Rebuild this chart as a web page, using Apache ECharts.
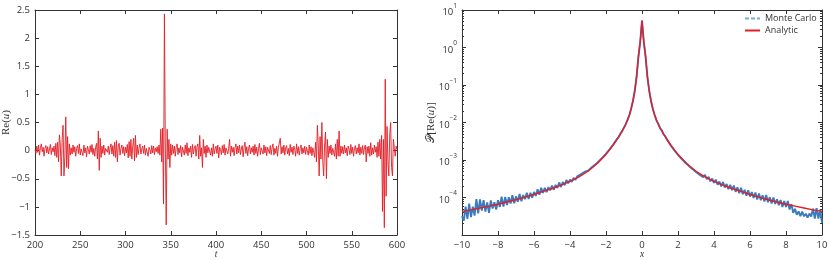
<!DOCTYPE html>
<html><head><meta charset="utf-8">
<script src="https://cdn.jsdelivr.net/npm/echarts@6/dist/echarts.min.js"></script>
<style>html,body{margin:0;padding:0;background:#fff}#c{width:830px;height:260px}</style>
</head><body><div id="c"></div>
<script>
// ---- Left panel: Re(u) vs t (t = 200..600, step 1) ----
const tStart = 200;
const signalU = [
0.02,-0.05,0.08,-0.03,0.1,-0.08,0.05,0.12,-0.02,0.06,-0.1,0.04,0.09,-0.04,0.07,-0.06,0.03,0.11,-0.07,0.05,
-0.02,0.08,-0.09,0.13,-0.12,0.15,-0.2,0.28,0.1,-0.45,0.2,0.45,-0.45,-0.1,0.6,-0.3,0.25,-0.32,0.12,-0.08,
0.05,-0.06,0.1,-0.03,0.07,-0.1,0.04,0.09,-0.05,0.12,-0.08,0.03,0.06,-0.09,0.1,-0.04,0.05,-0.11,0.08,0.02,
-0.06,0.09,-0.03,0.11,-0.07,0.04,-0.1,0.06,0.13,-0.15,0.35,-0.35,0.22,-0.12,0.08,-0.05,0.1,-0.08,0.04,0.07,
-0.03,0.08,-0.07,0.05,0.12,-0.06,0.09,-0.1,0.15,-0.12,0.18,-0.2,0.08,0.13,-0.08,0.04,0.1,-0.05,0.07,-0.09,
0.06,-0.04,0.11,-0.13,0.16,-0.1,0.2,-0.15,0.08,0.22,-0.18,0.27,-0.12,0.1,-0.07,0.05,0.12,-0.06,0.03,0.08,
-0.05,0.1,-0.08,0.04,0.07,-0.1,0.06,0.02,-0.06,0.09,-0.04,0.08,-0.07,0.05,-0.02,0.07,-0.05,0.1,-0.08,0.38,
-0.2,0.4,-0.95,2.43,0.1,-1.32,0.38,-0.15,0.2,-0.3,0.12,-0.08,0.1,-0.05,0.08,-0.1,0.06,0.12,-0.07,0.05,
-0.04,0.09,-0.11,0.06,0.03,-0.08,0.1,-0.05,0.14,-0.09,0.05,-0.03,0.08,-0.12,0.11,-0.06,0.04,0.09,-0.1,0.07,
0.12,-0.15,0.27,-0.1,0.05,-0.3,0.2,-0.05,0.08,-0.12,0.1,-0.04,0.06,0.09,-0.08,0.05,-0.1,0.12,-0.06,0.03,
0.08,-0.05,0.1,-0.13,0.06,0.02,-0.07,0.09,-0.04,0.11,-0.08,0.05,0.07,-0.06,0.04,0.2,-0.1,0.08,-0.03,0.06,
-0.09,0.05,0.12,-0.06,0.08,-0.04,0.1,-0.07,0.03,0.09,-0.11,0.06,0.15,-0.05,0.07,-0.09,0.04,0.1,-0.06,0.05,
-0.03,0.08,-0.08,0.11,-0.05,0.06,-0.1,0.04,0.13,-0.07,0.05,0.02,-0.06,0.1,-0.04,0.07,-0.09,0.06,0.03,-0.05,
0.09,-0.07,0.05,0.12,-0.08,0.04,-0.05,0.08,-0.1,0.06,0.03,0.22,-0.06,0.07,-0.04,0.1,-0.08,0.05,0.09,-0.06,
0.04,-0.09,0.11,-0.03,0.06,-0.07,0.08,0.02,-0.1,0.12,-0.05,0.07,-0.08,0.04,0.1,-0.06,0.05,-0.04,0.08,-0.07,
0.06,0.03,-0.08,0.1,-0.05,0.07,-0.09,0.05,0.08,-0.12,0.15,-0.2,0.45,0.1,-0.45,0.25,-0.15,0.5,-0.2,-0.45,
0.1,0.33,-0.5,0.2,-0.12,0.08,-0.05,0.1,-0.08,0.04,0.06,-0.1,0.12,-0.15,0.2,-0.1,0.35,-0.1,0.08,-0.05,
0.07,-0.06,0.1,-0.04,0.05,-0.09,0.08,0.03,-0.07,0.11,-0.05,0.06,-0.1,0.04,0.09,-0.06,0.05,-0.04,0.12,-0.08,
0.06,-0.05,0.09,-0.07,0.05,0.1,-0.2,0.07,-0.05,0.08,-0.1,0.14,-0.08,0.05,-0.06,0.1,-0.03,0.07,-0.12,0.15,
-0.1,0.2,-0.15,0.27,-1.08,0.2,-1.37,1.27,-0.81,0.43,-0.2,-0.45,0.3,0.5,-0.3,-0.45,0.2,0.05,-0.1,0.08,
0.02
];

// ---- Right panel: P[Re(u)] vs x ----
// Monte Carlo histogram, x = -10..10 step 0.1
const mcStart = -10, mcStep = 0.1;
const mcValues = [
3.2e-5,2.4e-5,5.7e-5,2.7e-5,6.9e-5,3.0e-5,5.7e-5,3.3e-5,9.0e-5,3.8e-5,
8.9e-5,4.5e-5,8.5e-5,4.2e-5,7.4e-5,3.9e-5,8.4e-5,5.1e-5,7.5e-5,4.8e-5,
8.5e-5,5.6e-5,1.05e-4,5.7e-5,1.03e-4,6.3e-5,1.01e-4,6.9e-5,1.15e-4,7.0e-5,
1.07e-4,7.7e-5,1.24e-4,7.9e-5,1.16e-4,9.0e-5,1.33e-4,9.1e-5,1.34e-4,9.8e-5,
1.4e-4,1.1e-4,1.66e-4,1.18e-4,1.82e-4,1.32e-4,1.8e-4,1.38e-4,1.89e-4,1.55e-4,
2.07e-4,1.61e-4,2.17e-4,1.79e-4,2.52e-4,1.9e-4,2.58e-4,2.13e-4,2.92e-4,2.39e-4,
2.99e-4,2.61e-4,3.36e-4,2.96e-4,3.66e-4,3.34e-4,4.14e-4,3.79e-4,4.81e-4,4.45e-4,
5.21e-4,5.34e-4,6.33e-4,6.41e-4,7.53e-4,7.78e-4,9.27e-4,9.7e-4,1.16e-3,1.23e-3,
1.47e-3,1.59e-3,1.92e-3,2.12e-3,2.59e-3,2.89e-3,3.57e-3,4.08e-3,5.05e-3,5.9e-3,
7.38e-3,9.03e-3,1.19e-2,1.58e-2,2.38e-2,3.8e-2,0.071,0.166,0.56,1.4,
5.2,
1.42,0.57,0.165,0.071,0.0378,0.0232,0.0161,0.0116,0.0093,0.0071,
6.14e-3,4.8e-3,4.24e-3,3.4e-3,3.04e-3,2.43e-3,2.25e-3,1.8e-3,1.68e-3,1.37e-3,
1.32e-3,1.08e-3,1.06e-3,8.55e-4,8.34e-4,6.95e-4,6.94e-4,5.79e-4,5.83e-4,4.76e-4,
5.15e-4,4.06e-4,4.48e-4,3.5e-4,4.01e-4,3.09e-4,3.56e-4,2.7e-4,3.21e-4,2.47e-4,
3.0e-4,2.2e-4,2.67e-4,1.97e-4,2.57e-4,1.85e-4,2.3e-4,1.66e-4,2.17e-4,1.57e-4,
2.09e-4,1.42e-4,1.87e-4,1.31e-4,1.81e-4,1.22e-4,1.61e-4,1.11e-4,1.56e-4,1.06e-4,
1.39e-4,9.7e-5,1.36e-4,8.9e-5,1.28e-4,8.5e-5,1.15e-4,7.8e-5,1.17e-4,7.5e-5,
1.02e-4,6.9e-5,1.0e-4,6.7e-5,8.96e-5,6.2e-5,8.6e-5,5.6e-5,8.0e-5,5.55e-5,
8.1e-5,4.8e-5,6.66e-5,3.9e-5,5.0e-5,3.45e-5,4.27e-5,3.19e-5,4.19e-5,3.15e-5,
3.69e-5,2.9e-5,3.72e-5,3.11e-5,5.05e-5,2.75e-5,5.19e-5,2.75e-5,4.7e-5,2.14e-5
];
// Analytic density
const anX = [-10,-9.5,-9,-8.5,-8,-7.5,-7,-6.5,-6,-5.5,-5,-4.5,-4,-3.5,-3,-2.5,-2,-1.8,-1.6,-1.4,-1.2,-1,-0.9,-0.8,-0.7,-0.6,-0.5,-0.4,-0.3,-0.2,-0.1,-0.05,0,
0.05,0.1,0.2,0.3,0.4,0.5,0.6,0.7,0.8,0.9,1,1.2,1.4,1.6,1.8,2,2.5,3,3.5,4,4.5,5,5.5,6,6.5,7,7.5,8,8.5,9,9.5,10];
const anY = [4.27e-5,4.68e-5,5.25e-5,5.89e-5,6.61e-5,7.59e-5,8.71e-5,1.02e-4,1.2e-4,1.45e-4,1.74e-4,2.14e-4,2.69e-4,3.55e-4,5.01e-4,7.94e-4,1.41e-3,1.86e-3,2.51e-3,3.47e-3,4.9e-3,7.24e-3,9.12e-3,1.17e-2,1.58e-2,2.34e-2,3.8e-2,7.08e-2,0.166,0.562,1.41,2.63,5.25,
2.63,1.41,0.562,0.166,7.08e-2,3.8e-2,2.34e-2,1.58e-2,1.17e-2,9.12e-3,7.24e-3,4.9e-3,3.47e-3,2.51e-3,1.86e-3,1.41e-3,7.94e-4,5.01e-4,3.55e-4,2.69e-4,2.14e-4,1.74e-4,1.45e-4,1.2e-4,1.02e-4,8.71e-5,7.59e-5,6.61e-5,5.89e-5,5.25e-5,4.68e-5,4.27e-5];

const seriesNames = ['Monte Carlo', 'Analytic'];

const signalData = signalU.map((v, i) => [tStart + i, v]);
const mcData = mcValues.map((v, i) => [Math.round((mcStart + i * mcStep) * 10) / 10, v]);
const anData = anX.map((x, i) => [x, anY[i]]);

const INK = '#333';
const FONT = 'Open Sans';
const minus = v => String(v).replace('-', '\u2212');
const baseAxis = {
  axisLine: { show: true, onZero: false, lineStyle: { color: INK, width: 1 } },
  axisTick: { show: true, inside: true, length: 4, lineStyle: { color: INK } },
  splitLine: { show: false },
  nameMoveOverlap: false,
  axisLabel: { color: INK, fontSize: 9.5, fontFamily: FONT, formatter: minus, margin: 5 }
};
const deco = { axisLabel: { show: false } };
const serifRich = {
  r: { fontFamily: 'Liberation Serif', fontSize: 11, color: INK },
  i: { fontFamily: 'Liberation Serif', fontStyle: 'italic', fontSize: 11, color: INK },
  c: { fontFamily: 'DejaVu Sans, Liberation Serif', fontSize: 11, color: INK }
};
const nameStyle = { fontFamily: 'Liberation Serif', fontStyle: 'italic', fontSize: 9.5, color: INK };

const chart = echarts.init(document.getElementById('c'), null, { renderer: 'canvas' });
chart.setOption({
  animation: false,
  backgroundColor: '#fff',
  grid: [
    { left: 35, top: 10, width: 362, height: 225, outerBoundsMode: 'none', containLabel: false },
    { left: 462, top: 10, width: 360, height: 225, outerBoundsMode: 'none', containLabel: false }
  ],
  legend: {
    data: [
      { name: seriesNames[0], lineStyle: { type: [4, 2], color: '#7aabdc', width: 2 }, itemStyle: { opacity: 0 } },
      { name: seriesNames[1], itemStyle: { opacity: 0 } }
    ],
    orient: 'vertical', left: 744, top: 14, itemWidth: 15, itemHeight: 8, itemGap: 3, padding: 0,
    textStyle: { fontSize: 9, color: INK, fontFamily: FONT }
  },
  xAxis: [
    Object.assign({}, baseAxis, { gridIndex: 0, type: 'value', min: 200, max: 600, interval: 50, position: 'bottom',
      name: 't', nameLocation: 'middle', nameGap: 14, nameTextStyle: nameStyle }),
    Object.assign({}, baseAxis, deco, { gridIndex: 0, type: 'value', min: 200, max: 600, interval: 50, position: 'top' }),
    Object.assign({}, baseAxis, { gridIndex: 1, type: 'value', min: -10, max: 10, interval: 2, position: 'bottom',
      name: 'x', nameLocation: 'middle', nameGap: 14, nameTextStyle: nameStyle }),
    Object.assign({}, baseAxis, deco, { gridIndex: 1, type: 'value', min: -10, max: 10, interval: 2, position: 'top' })
  ],
  yAxis: [
    Object.assign({}, baseAxis, { gridIndex: 0, type: 'value', min: -1.5, max: 2.5, interval: 0.5, position: 'left',
      name: '{r|Re(}{i|u}{r|)}', nameLocation: 'middle', nameGap: 23,
      nameTextStyle: { rich: serifRich } }),
    Object.assign({}, baseAxis, deco, { gridIndex: 0, type: 'value', min: -1.5, max: 2.5, interval: 0.5, position: 'right' }),
    Object.assign({}, baseAxis, { gridIndex: 1, type: 'log', logBase: 10, min: 1e-5, max: 10, position: 'left',
      minorTick: { show: true, splitNumber: 9, length: 2, lineStyle: { color: INK } },
      axisLabel: {
        color: INK, margin: 5,
        formatter: v => {
          const e = Math.round(Math.log10(v));
          if (e <= -5) return '';
          return '{b|10}{s|' + (e < 0 ? '\u2212' + (-e) : e) + '}';
        },
        rich: {
          b: { fontSize: 9.5, fontFamily: FONT, color: INK, verticalAlign: 'bottom', lineHeight: 15 },
          s: { fontSize: 6.5, fontFamily: FONT, color: INK, verticalAlign: 'top', lineHeight: 15 }
        }
      },
      name: '{c|\u{1D4AB}}{r|[Re(}{i|u}{r|)]}', nameLocation: 'middle', nameGap: 25,
      nameTextStyle: { rich: serifRich } }),
    Object.assign({}, baseAxis, deco, { gridIndex: 1, type: 'log', logBase: 10, min: 1e-5, max: 10, position: 'right',
      minorTick: { show: true, splitNumber: 9, length: 2, lineStyle: { color: INK } } })
  ],
  series: [
    { type: 'line', xAxisIndex: 0, yAxisIndex: 0, data: signalData, showSymbol: false, symbol: 'none',
      lineStyle: { color: '#e31d25', width: 0.9 }, silent: true },
    { name: seriesNames[0], type: 'line', xAxisIndex: 2, yAxisIndex: 2, data: mcData, symbol: 'none', showSymbol: false,
      color: '#3a7bbf', lineStyle: { color: '#3a7bbf', width: 1.9 }, silent: true },
    { name: seriesNames[1], type: 'line', xAxisIndex: 2, yAxisIndex: 2, data: anData, symbol: 'none', showSymbol: false,
      color: '#e41e26', lineStyle: { color: '#e41e26', width: 1.4 }, silent: true }
  ]
});
</script></body></html>
